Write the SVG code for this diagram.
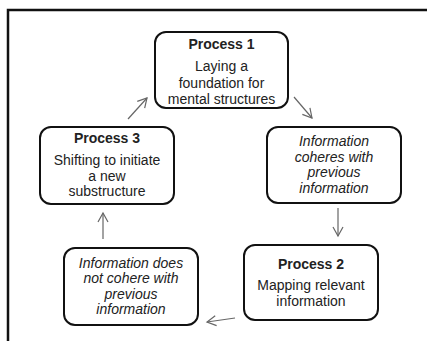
<svg xmlns="http://www.w3.org/2000/svg" width="427" height="341" viewBox="0 0 427 341">
<defs>
<marker id="ah" markerWidth="12" markerHeight="12" refX="10" refY="5" orient="auto" markerUnits="userSpaceOnUse" overflow="visible">
<path d="M1,0 L10,5 L1,10" fill="none" stroke="#666" stroke-width="1.2"/>
</marker>
<style>
.box{fill:#fff;stroke:#111;stroke-width:2}
.t{font-family:"Liberation Sans",Arial,sans-serif;font-size:14px;fill:#222;text-anchor:middle}
.b{font-weight:bold;font-size:14px}
.i{font-style:italic}
.c{stroke:#666;stroke-width:1.2;fill:none;marker-end:url(#ah)}
</style>
</defs>
<rect x="0" y="0" width="427" height="341" fill="#fff"/>
<path d="M8,345 L8,10 L430,10" fill="none" stroke="#111" stroke-width="2.5"/>
<g id="connectors">
<line class="c" x1="294" y1="97" x2="312" y2="118"/>
<line class="c" x1="338" y1="208" x2="338" y2="236"/>
<line class="c" x1="235" y1="318" x2="207" y2="322"/>
<line class="c" x1="103" y1="239" x2="103" y2="213"/>
<line class="c" x1="128" y1="119" x2="147" y2="98"/>
</g>
<g id="process1">
<rect class="box" x="155" y="32" width="133" height="76" rx="11"/>
<text class="t b" x="221.5" y="49">Process 1</text>
<text class="t" x="221.5" y="71">Laying a</text>
<text class="t" x="221.5" y="88">foundation for</text>
<text class="t" x="221.5" y="104">mental structures</text>
</g>
<g id="coheres">
<rect class="box" x="267" y="127" width="134" height="76" rx="11"/>
<text class="t i" x="334" y="146">Information</text>
<text class="t i" x="334" y="161.5">coheres with</text>
<text class="t i" x="334" y="177">previous</text>
<text class="t i" x="334" y="192.5">information</text>
</g>
<g id="process2">
<rect class="box" x="244" y="245" width="134" height="75" rx="11"/>
<text class="t b" x="311" y="269">Process 2</text>
<text class="t" x="311" y="290">Mapping relevant</text>
<text class="t" x="311" y="305.5">information</text>
</g>
<g id="notcoheres">
<rect class="box" x="64" y="248" width="134" height="77" rx="11"/>
<text class="t i" x="131" y="267.5">Information does</text>
<text class="t i" x="131" y="283">not cohere with</text>
<text class="t i" x="131" y="298.5">previous</text>
<text class="t i" x="131" y="314">information</text>
</g>
<g id="process3">
<rect class="box" x="40" y="127" width="134" height="77" rx="11"/>
<text class="t b" x="107" y="143">Process 3</text>
<text class="t" x="107" y="165">Shifting to initiate</text>
<text class="t" x="107" y="180.5">a new</text>
<text class="t" x="107" y="196">substructure</text>
</g>
</svg>
